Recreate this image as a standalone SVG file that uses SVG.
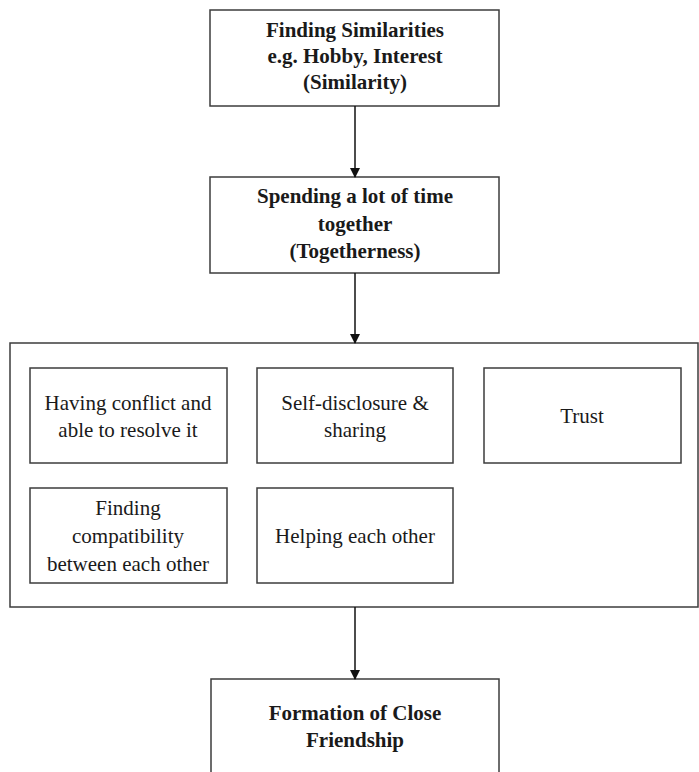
<svg xmlns="http://www.w3.org/2000/svg" width="699" height="772" viewBox="0 0 699 772">
<defs>
<marker id="ah" markerWidth="10" markerHeight="10" refX="9" refY="5" orient="auto" markerUnits="userSpaceOnUse">
<path d="M0,0 L10,5 L0,10 Z" fill="#111"/>
</marker>
<style>
.box{fill:#fff;stroke:#3c3c3c;stroke-width:1.5}
text{font-family:'Liberation Serif','DejaVu Serif',serif;font-size:21px;fill:#1a1a1a;text-anchor:middle}
.b{font-weight:bold}
.c{stroke:#111;stroke-width:1.5;fill:none;marker-end:url(#ah)}
</style>
</defs>
<rect width="699" height="772" fill="#fff"/>
<g id="similarity">
<rect class="box" x="210" y="10" width="289" height="96"/>
<text class="b" x="355" y="37">Finding Similarities</text>
<text class="b" x="355" y="63">e.g. Hobby, Interest</text>
<text class="b" x="355" y="89">(Similarity)</text>
</g>
<g id="togetherness">
<rect class="box" x="210" y="177" width="289" height="96"/>
<text class="b" x="355" y="203">Spending a lot of time</text>
<text class="b" x="355" y="231">together</text>
<text class="b" x="355" y="258">(Togetherness)</text>
</g>
<g id="processes">
<rect class="box" x="10" y="343" width="688" height="264"/>
<g id="conflict">
<rect class="box" x="30" y="368" width="197" height="95"/>
<text x="128" y="410">Having conflict and</text>
<text x="128" y="437">able to resolve it</text>
</g>
<g id="disclosure">
<rect class="box" x="257" y="368" width="196" height="95"/>
<text x="355" y="410">Self-disclosure &amp;</text>
<text x="355" y="437">sharing</text>
</g>
<g id="trust">
<rect class="box" x="484" y="368" width="197" height="95"/>
<text x="582" y="423">Trust</text>
</g>
<g id="compatibility">
<rect class="box" x="30" y="488" width="197" height="95"/>
<text x="128" y="515">Finding</text>
<text x="128" y="543">compatibility</text>
<text x="128" y="571">between each other</text>
</g>
<g id="helping">
<rect class="box" x="257" y="488" width="196" height="95"/>
<text x="355" y="543">Helping each other</text>
</g>
</g>
<g id="friendship">
<rect class="box" x="211" y="679" width="288" height="110"/>
<text class="b" x="355" y="720">Formation of Close</text>
<text class="b" x="355" y="747">Friendship</text>
</g>
<g id="connectors">
<line class="c" x1="355" y1="106" x2="355" y2="177"/>
<line class="c" x1="355" y1="273" x2="355" y2="343"/>
<line class="c" x1="355" y1="607" x2="355" y2="679"/>
</g>
</svg>
